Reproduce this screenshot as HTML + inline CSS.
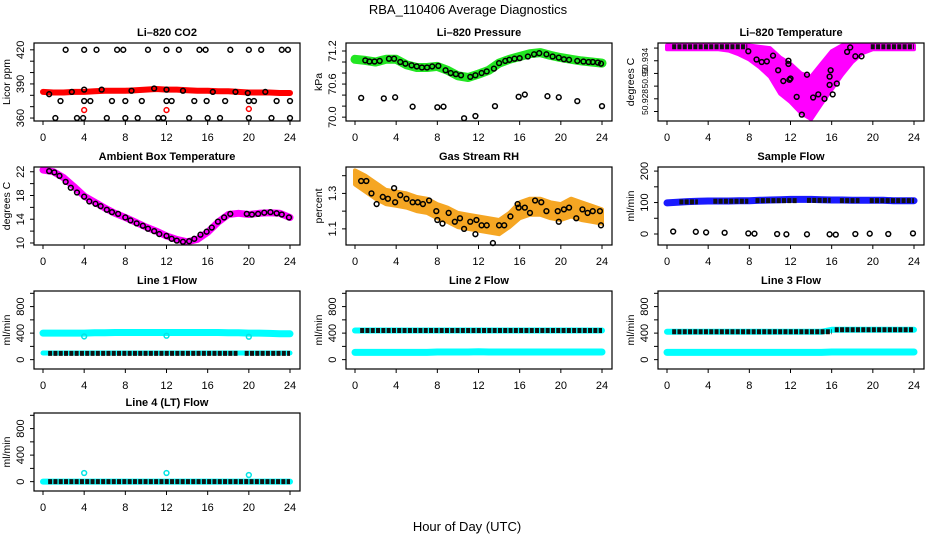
<!DOCTYPE html>
<html><head><meta charset="utf-8"><style>
html,body{margin:0;padding:0;background:#fff;}
svg{display:block;font-family:"Liberation Sans",Arial,sans-serif;}
</style></head><body>
<svg id="chart" width="936" height="540" viewBox="0 0 936 540" xmlns="http://www.w3.org/2000/svg">
<rect x="0" y="0" width="936" height="540" fill="#fff"/>
<text x="468" y="14" text-anchor="middle" font-size="13">RBA_110406  Average Diagnostics</text>
<text x="467" y="531" text-anchor="middle" font-size="13">Hour of Day (UTC)</text>
</svg>
<script>
// ---------- data ----------
const hours=[0,1,2,3,4,5,6,7,8,9,10,11,12,13,14,15,16,17,18,19,20,21,22,23,24];
const xTicks=[0,4,8,12,16,20,24];

const co2Band=[383,382.5,382.5,383,383,383.5,384,384,384,384.5,385,385.5,385,385,384.5,384,384,383.5,383.5,383,382.5,382.5,382.5,382,382];
const co2X=[2.2,4,5.2,7.2,7.8,10.2,12,13.2,15.2,15.8,18.2,20,21.2,23.2,23.8, 1.2,3.3,3.9,6.2,8,9.2,11.2,11.7,14.2,16,17.2,20,22.2,24, 1.7,4,4.6,6.7,8,9.6,12,12.5,14.7,15.9,17.7,20,20.5,22.7,24, 0.6,2.8,4,5.7,8.6,10.8,12,13.6,16.5,18.7,19.9,21.6];
const co2Y=[420,420,420,420,420,420,420,420,420,420,420,420,420,420,420, 360,360,360,360,360,360,360,360,360,360,360,360,360,360, 375,375,375,375,375,375,375,375,375,375,375,375,375,375,375, 381,383,385,385,384,386,385,384,383,383,382,383];
const co2RedX=[4,12,20];
const co2RedY=[367,367,368];

const presBand=[71.05,71.03,71.0,71.05,71.05,70.95,70.9,70.9,70.92,70.85,70.75,70.72,70.78,70.85,70.98,71.05,71.1,71.15,71.17,71.12,71.08,71.05,71.02,71.0,70.98];
const presX=[1.0,1.4,1.9,2.4,3.3,3.8,4.4,4.9,5.5,6.0,6.5,7.0,7.5,8.1,8.8,9.3,9.8,10.3,11.2,11.7,12.3,12.8,13.5,14.0,14.6,15.0,15.5,16.0,16.8,17.4,17.9,18.6,19.2,19.8,20.3,20.8,21.6,22.2,22.7,23.1,23.6,23.9, 0.6,2.8,3.9,5.6,8,8.6,10.6,11.7,13.6,15.9,16.5,18.7,19.8,21.6,24];
const presY=[71.03,71.01,71.01,71.02,71.06,71.06,71.0,70.97,70.94,70.92,70.9,70.9,70.92,70.93,70.85,70.8,70.78,70.76,70.73,70.76,70.8,70.83,70.88,70.98,71.02,71.04,71.06,71.07,71.1,71.14,71.16,71.14,71.1,71.08,71.05,71.04,71.02,71.01,71.0,71.0,70.99,70.97, 70.35,70.34,70.36,70.19,70.18,70.19,69.98,70.02,70.2,70.37,70.41,70.38,70.36,70.29,70.2];

const tempHi=[50.9364,50.9364,50.9364,50.9364,50.9364,50.9364,50.9364,50.9364,50.9364,50.9362,50.936,50.9345,50.9335,50.932,50.9315,50.9335,50.9355,50.9364,50.9364,50.9364,50.9364,50.9364,50.9364,50.9364,50.9364];
const tempLo=[50.9358,50.9358,50.9358,50.9358,50.9358,50.9358,50.9356,50.935,50.9342,50.933,50.9315,50.9288,50.9275,50.9258,50.9248,50.9272,50.9295,50.9318,50.9338,50.9352,50.9358,50.9358,50.9358,50.9358,50.9358];
const tempX=[7.9,8.7,9.2,9.7,10.3,10.8,11.3,11.8,11.9,11.8,12.0,12.6,13.1,13.6,14.2,14.7,15.3,15.8,15.8,15.9,16.1,16.5,17.5,17.8,18.3,18.9];
const tempY=[50.9355,50.9342,50.9338,50.9339,50.9348,50.9325,50.9308,50.9340,50.9310,50.9335,50.9312,50.9283,50.9255,50.9318,50.9282,50.9287,50.9280,50.9302,50.9315,50.9325,50.9287,50.9304,50.9354,50.9361,50.9347,50.9347];
const tempTopRowsFrom=[0.5,19.8];
const tempTopRowsTo=[7.8,24];
const tempTopRowsVal=[50.9362,50.9362];

const ambBand=[22.3,22.0,21.0,19.5,17.9,16.9,15.9,15.0,14.3,13.5,12.7,12.0,11.2,10.6,10.2,10.6,11.8,13.5,14.8,15.0,14.8,15.0,15.1,15.0,14.3];
const ambX=[0.6,1.1,1.6,2.2,2.7,3.3,4,4.5,5.1,5.6,6.2,6.7,7.3,8,8.5,9.1,9.7,10.2,10.8,11.3,12,12.5,13,13.6,14.2,14.7,15.3,15.9,16.4,17,17.6,18.2,19.8,20.3,20.9,21.5,22.1,22.7,23.2,23.9];
const ambY=[22.1,21.9,21.3,20.3,19.3,18.5,17.8,17.0,16.6,16.2,15.6,15.2,14.9,14.3,13.8,13.3,12.9,12.4,12.0,11.5,11.2,10.7,10.4,10.2,10.3,10.7,11.4,11.9,12.6,13.6,14.3,14.9,14.9,14.8,14.9,15.1,15.2,15.0,14.8,14.3];

const rhHi=[1.43,1.40,1.36,1.32,1.31,1.30,1.28,1.27,1.24,1.22,1.19,1.18,1.17,1.16,1.15,1.19,1.25,1.27,1.27,1.25,1.24,1.27,1.25,1.23,1.21];
const rhLo=[1.35,1.31,1.27,1.24,1.23,1.22,1.20,1.19,1.16,1.14,1.11,1.10,1.09,1.08,1.07,1.11,1.16,1.18,1.18,1.16,1.15,1.17,1.15,1.14,1.13];
const rhX=[0.6,1.1,1.6,2.1,2.7,3.2,3.8,3.9,4.4,5.0,5.6,6.1,6.6,7.2,7.9,8.0,8.5,9.1,9.7,10.2,10.6,11.2,11.7,11.8,12.3,12.8,13.4,14.0,14.5,15.1,15.8,15.9,16.5,17.0,17.5,18.1,18.6,19.7,19.8,20.3,20.8,21.5,22.1,22.6,23.1,23.8,23.9];
const rhY=[1.37,1.37,1.3,1.24,1.28,1.27,1.33,1.25,1.29,1.27,1.25,1.25,1.24,1.26,1.2,1.15,1.13,1.19,1.14,1.16,1.1,1.14,1.07,1.15,1.12,1.12,1.02,1.12,1.12,1.17,1.24,1.22,1.22,1.19,1.26,1.25,1.2,1.2,1.14,1.21,1.22,1.16,1.21,1.19,1.2,1.2,1.12];

const sfBand=[99,101,103,104,105,105,105,106,106,107,108,109,110,110,110,109,108,108,107,107,107,107,106,106,106];
const sfX=[0.6,2.8,3.8,5.6,7.9,8.5,10.7,11.6,13.6,15.8,16.4,18.3,19.7,21.5,23.9];
const sfY=[8,7,5,4,2,1,0,-1,-1,-1,-2,0,1,0,2];
const sfRowsFrom=[1.2,4.5,8.6,13.6,16.8,19.7];
const sfRowsTo=[3.0,7.9,12.7,15.9,18.7,24];
const sfRowsVal=[102,104,106,107,106,106];

const l1Hi=[400,400,400,400,400,405,405,410,410,410,410,410,410,410,410,410,410,410,405,405,400,400,395,390,390];
const l1Lo=[100,100,100,100,100,100,100,100,100,100,100,100,100,100,100,100,100,100,100,100,100,100,100,100,100];
const l1OutX=[4,12,20];
const l1OutY=[350,360,345];
const l1RowsFrom=[0.5,19.6];
const l1RowsTo=[18.9,24];
const l1RowsVal=[95,95];

const l2Hi=[440,440,440,440,440,440,440,440,440,440,440,440,440,440,440,440,440,440,440,440,440,440,440,440,440];
const l2Lo=[110,110,110,110,110,110,110,110,115,115,115,115,120,115,115,115,115,115,115,115,115,115,115,115,115];
const l2RowsFrom=[0.5];
const l2RowsTo=[24];
const l2RowsVal=[440];

const l3Hi=[420,420,420,420,420,420,420,420,420,420,420,420,420,420,420,420,450,450,450,450,450,450,450,450,450];
const l3Lo=[110,110,110,110,110,110,110,110,110,110,110,110,110,110,110,110,115,115,115,115,115,115,115,115,115];
const l3RowsFrom=[0.5,16.3];
const l3RowsTo=[16.0,24];
const l3RowsVal=[420,450];

const l4Base=[0,0,0,0,0,0,0,0,0,0,0,0,0,0,0,0,0,0,0,0,0,0,0,0,0];
const l4OutX=[4,12,20];
const l4OutY=[130,130,100];
const l4RowsFrom=[0.5];
const l4RowsTo=[24];
const l4RowsVal=[0];

const co2Ticks=[360,370,380,390,400,410,420];
const co2Labels=["360","","","390","","","420"];
const presTicks=[70.0,70.2,70.4,70.6,70.8,71.0,71.2];
const presLabels=["70.0","","","70.6","","","71.2"];
const tempTicks=[50.926,50.928,50.930,50.932,50.934,50.936];
const tempLabels=["","","","","",""];
const tempLabelVals=[50.9275,50.9313,50.9340];
const tempLabelText=["50.928","50.93","50.934"];
const ambTicks=[10,12,14,16,18,20,22];
const ambLabels=["10","","14","","18","","22"];
const rhTicks=[1.1,1.2,1.3,1.4];
const rhLabels=["1.1","","1.3",""];
const sfTicks=[0,50,100,150,200];
const sfLabels=["0","","100","","200"];
const flowTicks=[0,200,400,600,800,1000];
const flowLabels=["0","","400","","800",""];

// ---------- drawing ----------
const NS="http://www.w3.org/2000/svg";
const svg=document.getElementById('chart');
const colLeft=[34,346,658], rowTop=[43,167,291,413], BW=266, BH=78;
function mk(tag,attrs,parent){const e=document.createElementNS(NS,tag);for(const k in attrs)e.setAttribute(k,attrs[k]);(parent||svg).appendChild(e);return e;}

function panel(col,row,title,ylab,ymin,ymax,ticks,labels,name){
  const L=colLeft[col],T=rowTop[row];
  const g=mk('g',{});
  
  
  const p={L,T,g,
    sx:h=>L+9+h*(247/24),
    sy:v=>T+BH-(v-ymin)/(ymax-ymin)*BH};
  const plot=mk('g',{},g);
  
  
  p.plot=plot;
  const t=mk('text',{x:L+BW/2,y:T-7,'text-anchor':'middle','font-size':'11','font-weight':'bold'},g);
  t.textContent=title;
  
  
  const yl=mk('text',{x:0,y:0,'text-anchor':'middle','font-size':'10.5',transform:`translate(${L-24},${T+BH/2}) rotate(-90)`},g);
  yl.textContent=ylab;
  
  
  p.ylabel=function(v,txt,fs){
    const tl=mk('text',{x:0,y:0,'text-anchor':'middle','font-size':fs||'11',transform:`translate(${L-10},${p.sy(v)}) rotate(-90)`},g);
    tl.textContent=txt;
    
    
  };
  p.finish=function(){
    const b=mk('rect',{x:L,y:T,width:BW,height:BH,fill:'none',stroke:'#000','stroke-width':1.2},g);
    
    
    xTicks.forEach(h=>{
      const x=p.sx(h);
      mk('line',{x1:x,x2:x,y1:T+BH,y2:T+BH+4,stroke:'#000'},g);
      const tl=mk('text',{x:x,y:T+BH+20,'text-anchor':'middle','font-size':'11'},g);
      tl.textContent=String(h);
      
      
    });
    ticks.forEach((v,i)=>{
      const y=p.sy(v);
      if(y<T-1||y>T+BH+1)return;
      mk('line',{x1:L-4,x2:L,y1:y,y2:y,stroke:'#000'},g);
      if(labels[i]) p.ylabel(v,labels[i]);
    });
  };
  return p;
}
function band(p,xs,ys,color,w,nm){
  const d=xs.map((h,i)=>(i?'L':'M')+p.sx(h).toFixed(1)+','+p.sy(ys[i]).toFixed(1)).join('');
  const e=mk('path',{d:d,fill:'none',stroke:color,'stroke-width':w,'stroke-linejoin':'round','stroke-linecap':'round'},p.plot);
  
  
}
function area(p,xs,lo,hi,color,nm){
  let d=xs.map((h,i)=>(i?'L':'M')+p.sx(h).toFixed(1)+','+p.sy(hi[i]).toFixed(1)).join('');
  for(let i=xs.length-1;i>=0;i--)d+='L'+p.sx(xs[i]).toFixed(1)+','+p.sy(lo[i]).toFixed(1);
  const e=mk('path',{d:d+'Z',fill:color,stroke:color,'stroke-width':4,'stroke-linejoin':'round'},p.plot);
  
  
}
function pts(p,xs,ys,color,nm){
  xs.forEach((h,i)=>{
    const c=mk('circle',{cx:p.sx(h),cy:p.sy(ys[i]),r:2.4,fill:'none',stroke:color,'stroke-width':1.5},p.plot);
    
    
  });
}
function rows(p,from,to,vals,nm){
  from.forEach((a,i)=>{
    const y=p.sy(vals[i]);
    const e=mk('line',{x1:p.sx(a),x2:p.sx(to[i]),y1:y,y2:y,stroke:'#111','stroke-width':5,'stroke-dasharray':'4 1.3'},p.plot);
    
    
  });
}

// Li-820 CO2
let p=panel(0,0,'Li–820 CO2','Licor ppm',357.4,426,co2Ticks,co2Labels,'co2');
band(p,hours,co2Band,'#f00',6,'co2-band');
pts(p,co2X,co2Y,'#000','co2-point');
pts(p,co2RedX,co2RedY,'#f00','co2-red-point');
p.finish();

// Pressure
p=panel(1,0,'Li–820 Pressure','kPa',69.93,71.345,presTicks,presLabels,'pressure');
band(p,hours,presBand,'#22e622',9,'pressure-band');
pts(p,presX,presY,'#000','pressure-point');
p.finish();

// Temperature
p=panel(2,0,'Li–820 Temperature','degrees C',50.9245,50.9368,tempTicks,tempLabels,'li-temp');
area(p,hours,tempLo,tempHi,'#ff00ff','li-temp-band');
rows(p,tempTopRowsFrom,tempTopRowsTo,tempTopRowsVal,'li-temp-point-row');
pts(p,tempX,tempY,'#000','li-temp-point');
p.finish();
tempLabelVals.forEach((v,i)=>p.ylabel(v,tempLabelText[i],'8.5'));

// Ambient
p=panel(0,1,'Ambient Box Temperature','degrees C',9.66,22.8,ambTicks,ambLabels,'ambient');
band(p,hours,ambBand,'#ff00ff',7,'ambient-band');
pts(p,ambX,ambY,'#000','ambient-point');
p.finish();

// RH
p=panel(1,1,'Gas Stream RH','percent',1.009,1.449,rhTicks,rhLabels,'rh');
area(p,hours,rhLo,rhHi,'#f5a623','rh-band');
pts(p,rhX,rhY,'#000','rh-point');
p.finish();

// Sample flow
p=panel(2,1,'Sample Flow','ml/min',-35,213,sfTicks,sfLabels,'sample-flow');
band(p,hours,sfBand,'#1a1aff',7,'sample-flow-band');
rows(p,sfRowsFrom,sfRowsTo,sfRowsVal,'sample-flow-point-row');
pts(p,sfX,sfY,'#000','sample-flow-point');
p.finish();

// Line 1
p=panel(0,2,'Line 1 Flow','ml/min',-141,1035,flowTicks,flowLabels,'line1');
band(p,hours,l1Hi,'#00ffff',7,'line1-high-band');
band(p,hours,l1Lo,'#00ffff',5,'line1-low-band');
pts(p,l1OutX,l1OutY,'#00e5e5','line1-outlier');
rows(p,l1RowsFrom,l1RowsTo,l1RowsVal,'line1-point-row');
p.finish();

// Line 2
p=panel(1,2,'Line 2 Flow','ml/min',-141,1035,flowTicks,flowLabels,'line2');
band(p,hours,l2Hi,'#00ffff',6,'line2-high-band');
band(p,hours,l2Lo,'#00ffff',7,'line2-low-band');
rows(p,l2RowsFrom,l2RowsTo,l2RowsVal,'line2-point-row');
p.finish();

// Line 3
p=panel(2,2,'Line 3 Flow','ml/min',-141,1035,flowTicks,flowLabels,'line3');
band(p,hours,l3Hi,'#00ffff',6,'line3-high-band');
band(p,hours,l3Lo,'#00ffff',7,'line3-low-band');
rows(p,l3RowsFrom,l3RowsTo,l3RowsVal,'line3-point-row');
p.finish();

// Line 4
p=panel(0,3,'Line 4 (LT) Flow','ml/min',-141,1035,flowTicks,flowLabels,'line4');
band(p,hours,l4Base,'#00ffff',6,'line4-band');
pts(p,l4OutX,l4OutY,'#00e5e5','line4-outlier');
rows(p,l4RowsFrom,l4RowsTo,l4RowsVal,'line4-point-row');
p.finish();
</script>
</body></html>
